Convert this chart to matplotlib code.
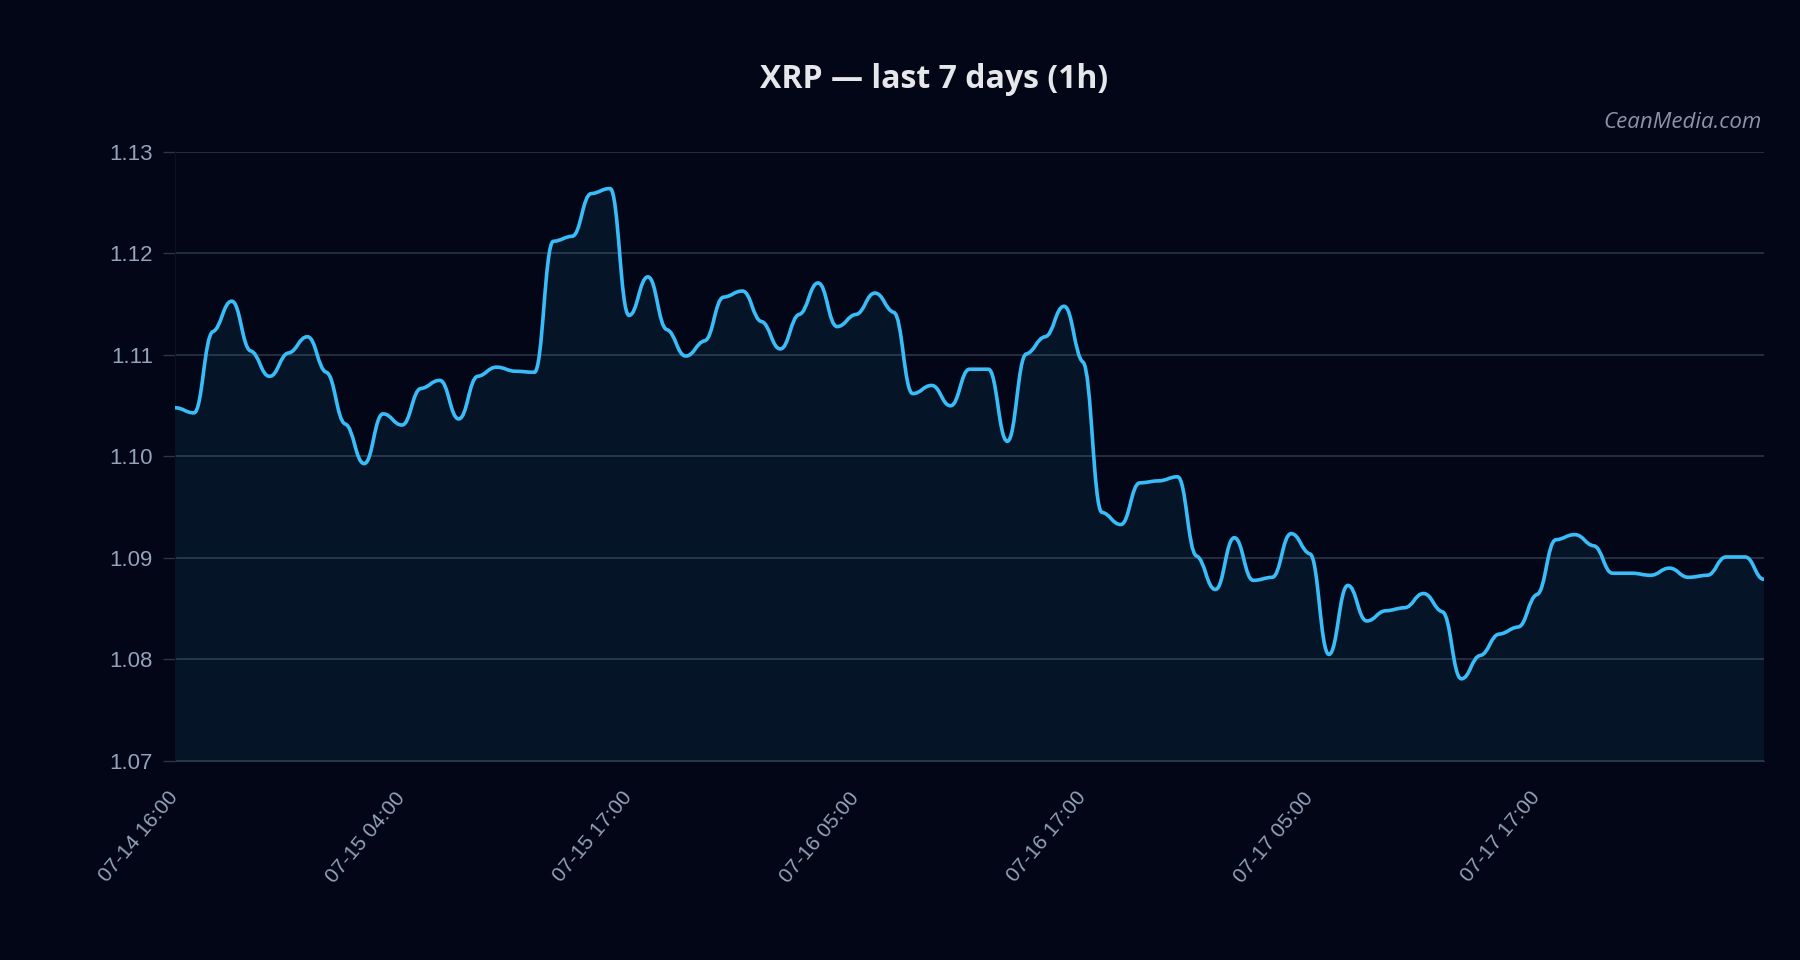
import numpy as np
import matplotlib
matplotlib.use("Agg")
import matplotlib.pyplot as plt
from matplotlib.path import Path
from matplotlib.patches import PathPatch

# hourly XRP closes
price = [
    1.1048, 1.1043, 1.1123, 1.1153, 1.1104, 1.1079, 1.1102, 1.1118, 1.1083, 1.1032,
    1.0993, 1.1042, 1.1031, 1.1067, 1.1075, 1.1037, 1.1079, 1.1088, 1.1084, 1.1083,
    1.1212, 1.1217, 1.1259, 1.1264, 1.1139, 1.1177, 1.1125, 1.1099, 1.1114, 1.1157,
    1.1163, 1.1133, 1.1106, 1.1140, 1.1171, 1.1128, 1.1140, 1.1161, 1.1142, 1.1062,
    1.1070, 1.1050, 1.1086, 1.1086, 1.1015, 1.1101, 1.1118, 1.1148, 1.1093, 1.0945,
    1.0933, 1.0974, 1.0976, 1.0980, 1.0902, 1.0869, 1.0920, 1.0878, 1.0881, 1.0924,
    1.0904, 1.0805, 1.0873, 1.0838, 1.0848, 1.0851, 1.0865, 1.0847, 1.0781, 1.0804,
    1.0825, 1.0832, 1.0864, 1.0918, 1.0923, 1.0912, 1.0885, 1.0885, 1.0883, 1.0890,
    1.0881, 1.0883, 1.0901, 1.0901, 1.0879,
]
tick_labels = ["07-14 16:00", "07-15 04:00", "07-15 17:00", "07-16 05:00",
               "07-16 17:00", "07-17 05:00", "07-17 17:00"]
label_step = 12
y_ticks = [1.07, 1.08, 1.09, 1.10, 1.11, 1.12, 1.13]

BG = "#020617"
LINE = "#38bdf8"
GRID = "#2b3545"
MUTED = "#94a3b8"


def smooth_path(x, y, base=None, slope_k=0.12, handle=0.45):
    """Flattened monotone cubic drawn as bezier segments in data coords."""
    x = np.asarray(x, float)
    y = np.asarray(y, float)
    n = len(y)
    h = np.diff(x)
    s = np.diff(y) / h
    t = np.zeros(n)
    for i in range(1, n - 1):
        s0, s1 = s[i - 1], s[i]
        p = (s0 * h[i] + s1 * h[i - 1]) / (h[i - 1] + h[i])
        t[i] = (np.sign(s0) + np.sign(s1)) * min(abs(s0), abs(s1), 0.5 * abs(p))
    t *= slope_k
    verts = [(x[0], y[0])]
    codes = [Path.MOVETO]
    for i in range(n - 1):
        d = h[i] * handle
        verts += [(x[i] + d, y[i] + t[i] * d),
                  (x[i + 1] - d, y[i + 1] - t[i + 1] * d),
                  (x[i + 1], y[i + 1])]
        codes += [Path.CURVE4] * 3
    if base is not None:
        verts += [(x[-1], base), (x[0], base), (x[0], y[0])]
        codes += [Path.LINETO, Path.LINETO, Path.CLOSEPOLY]
    return Path(verts, codes)


x = np.arange(len(price))

fig = plt.figure(figsize=(18, 9.6), dpi=100, facecolor=BG)
ax = fig.add_axes([175 / 1800, 1 - 761 / 960, (1764 - 175) / 1800, (761 - 152) / 960])
ax.set_facecolor(BG)

ax.set_xlim(x[0], x[-1])
ax.set_ylim(y_ticks[0], y_ticks[-1])

ax.add_patch(PathPatch(smooth_path(x, price, base=y_ticks[0]),
                       facecolor=LINE, alpha=0.08, edgecolor="none", zorder=2))
ax.add_patch(PathPatch(smooth_path(x, price), facecolor="none", edgecolor=LINE,
                       lw=2.6, capstyle="round", joinstyle="round", zorder=3))

ax.set_yticks(y_ticks)
ax.set_yticklabels([f"{v:.2f}" for v in y_ticks], family="Liberation Sans",
                   fontsize=16, color=MUTED)
ax.set_xticks(x[::label_step][:len(tick_labels)])
ax.set_xticklabels(tick_labels, rotation=50, rotation_mode="anchor",
                   ha="right", va="center",
                   family="Liberation Sans", fontsize=15, color=MUTED)
ax.tick_params(axis="y", length=9, width=1, color=GRID, pad=7)
ax.tick_params(axis="x", length=0, pad=24)

ax.grid(axis="y", color=GRID, lw=1.2, zorder=1)
ax.set_axisbelow(True)
for side in ["top", "right"]:
    ax.spines[side].set_visible(False)
ax.spines["left"].set_color("#0b1222")
ax.spines["bottom"].set_color(GRID)

fig.text(934 / 1800, 1 - 79 / 960, "XRP \u2014 last 7 days (1h)", family="Open Sans",
         fontweight="bold", fontsize=23, color="#e5e7eb", ha="center", va="center")
fig.text(1762 / 1800, 1 - 123 / 960, "CeanMedia.com", family="Open Sans",
         style="italic", fontsize=16, color="#8b93a5", ha="right", va="center")

plt.savefig("out.png", dpi=100, facecolor=BG)
